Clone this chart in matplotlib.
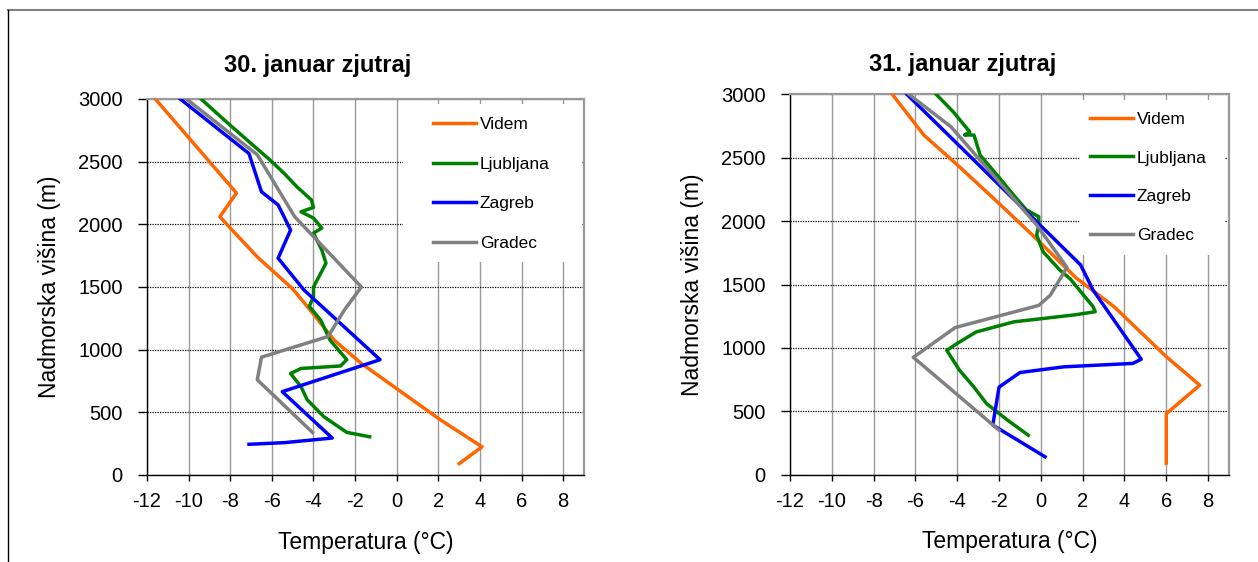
import matplotlib
matplotlib.use("Agg")
import matplotlib.pyplot as plt
from matplotlib.lines import Line2D
from matplotlib.patches import Rectangle

plt.rcParams['font.family'] = ['Liberation Sans', 'DejaVu Sans']
plt.rcParams['axes.unicode_minus'] = False

# 30. januar zjutraj
videm30_T = [-11.6, -7.7, -8.5, -6.7, -5.0, -4.3, -3.0, -1.7, 2.1, 4.1, 3.0]
videm30_h = [3000, 2250, 2060, 1740, 1485, 1345, 1075, 890, 440, 225, 90]
ljub30_T = [-9.4, -8.1, -7.0, -6.1, -5.4, -4.8, -4.1, -4.0, -4.6, -4.0, -3.6, -4.0, -3.6, -3.4,
            -3.65, -4.0, -4.0, -4.2, -3.65, -3.2, -2.4, -2.7, -4.6, -5.1, -4.6, -4.3, -3.5, -2.4, -1.3]
ljub30_h = [3000, 2805, 2645, 2515, 2405, 2300, 2195, 2135, 2100, 2050, 1970, 1930, 1795, 1690,
            1610, 1500, 1425, 1345, 1235, 1075, 920, 870, 850, 810, 705, 600, 465, 340, 305]
zag30_T = [-10.4, -7.1, -6.5, -5.7, -5.1, -5.7, -4.45, -0.8, -5.5, -3.1, -5.4, -7.1]
zag30_h = [3000, 2565, 2260, 2155, 1955, 1730, 1475, 920, 665, 295, 258, 245]
grad30_T = [-10.1, -6.7, -4.9, -1.7, -2.5, -3.3, -6.5, -6.7, -4.05]
grad30_h = [3000, 2555, 2060, 1500, 1320, 1105, 940, 760, 340]

# 31. januar zjutraj
videm31_T = [-7.1, -5.6, -4.0, -2.1, -0.4, 1.7, 3.5, 6.0, 7.6, 6.0, 6.0]
videm31_h = [3000, 2680, 2445, 2155, 1890, 1550, 1325, 930, 705, 480, 90]
ljub31_T = [-5.0, -4.2, -3.8, -3.4, -3.65, -3.2, -2.9, -2.1, -1.3, -0.7, -0.1, -0.1, -0.2, 0.1,
            0.9, 1.4, 2.5, 2.6, 1.6, -1.3, -3.1, -4.0, -4.5, -3.9, -3.2, -2.6, -1.6, -0.6]
ljub31_h = [3000, 2865, 2785, 2705, 2680, 2680, 2520, 2365, 2205, 2090, 2035, 1970, 1890, 1760,
            1615, 1545, 1325, 1285, 1260, 1205, 1125, 1035, 980, 825, 690, 560, 430, 310]
zag31_T = [-6.4, 1.9, 2.5, 4.8, 4.4, 1.1, -1.0, -2.0, -2.3, 0.2]
zag31_h = [3000, 1655, 1455, 910, 877, 850, 805, 690, 390, 140]
grad31_T = [-6.3, -4.3, -0.2, 1.25, 0.45, -0.1, -4.1, -6.1, -2.0]
grad31_h = [3000, 2745, 1970, 1635, 1415, 1335, 1160, 925, 350]

names = ['Videm', 'Ljubljana', 'Zagreb', 'Gradec']
colors = ['#FF6600', '#008000', '#0000FF', '#808080']
x_ticks = list(range(-12, 9, 2))
y_ticks = list(range(0, 3001, 500))

days = [
    ("30. januar zjutraj", [(videm30_T, videm30_h), (ljub30_T, ljub30_h), (zag30_T, zag30_h), (grad30_T, grad30_h)]),
    ("31. januar zjutraj", [(videm31_T, videm31_h), (ljub31_T, ljub31_h), (zag31_T, zag31_h), (grad31_T, grad31_h)]),
]

fig = plt.figure(figsize=(12.58, 5.62), dpi=100)
W, H = 1258, 562

# axes boxes in pixels: left, right, top, bottom
boxes = [(147, 584, 99, 475), (790, 1229, 94.5, 474.5)]
title_pos = [(318, 72), (963, 71)]
legend_rect = [(0.586, 0.566, 0.41, 0.42), (0.66, 0.578, 0.332, 0.408)]
legend_anchor = [(0.655, 0.953), (0.684, 0.955)]
legend_spacing = [1.42, 1.36]

for i, (title, series) in enumerate(days):
    l, r, t, b = boxes[i]
    ax = fig.add_axes([l / W, 1 - b / H, (r - l) / W, (b - t) / H])
    for (T, h), name, c in zip(series, names, colors):
        ax.plot(T, h, color=c, lw=2.5, label=name, zorder=3)
    ax.set_xlim(-12, 9)
    ax.set_ylim(0, 3000)
    ax.set_xticks(x_ticks)
    ax.set_yticks(y_ticks)
    ax.set_axisbelow(True)
    ax.xaxis.grid(True, color='#999999', lw=1.0, ls='-')
    ax.yaxis.grid(True, color='black', lw=0.9, ls=(0, (1, 1)))
    for s in ['top', 'right']:
        ax.spines[s].set_color('#999999')
        ax.spines[s].set_linewidth(1.6)
    for s in ['left', 'bottom']:
        ax.spines[s].set_color('black')
        ax.spines[s].set_linewidth(1.0)
    ax.tick_params(axis='y', length=6.5, width=1, pad=11, labelsize=14.5)
    ax.tick_params(axis='x', length=4.5, width=1, pad=8, labelsize=14.5)
    ax.set_xlabel("Temperatura (°C)", fontsize=16.5, labelpad=14)
    ax.set_ylabel("Nadmorska višina (m)", fontsize=16.5, labelpad=12)

    # white legend area hiding the grid
    rx, ry, rw, rh = legend_rect[i]
    ax.add_patch(Rectangle((rx, ry), rw, rh, transform=ax.transAxes,
                           facecolor='white', edgecolor='none', zorder=1.5))
    ax.legend(loc='upper left', bbox_to_anchor=legend_anchor[i], frameon=False,
              fontsize=12.5, handlelength=2.48, handletextpad=0.2,
              labelspacing=legend_spacing[i], borderpad=0, borderaxespad=0)

    fig.text(title_pos[i][0] / W, 1 - title_pos[i][1] / H, title, ha='center', va='baseline',
             fontsize=17, fontweight='bold')

# outer chart border
fig.add_artist(Line2D([8 / W, 1], [1 - 10 / H, 1 - 10 / H], color='#808080', lw=1.5,
                      transform=fig.transFigure))
fig.add_artist(Line2D([8 / W, 8 / W], [0, 1 - 10 / H], color='black', lw=1.0,
                      transform=fig.transFigure))

fig.savefig("out.png", dpi=100)
